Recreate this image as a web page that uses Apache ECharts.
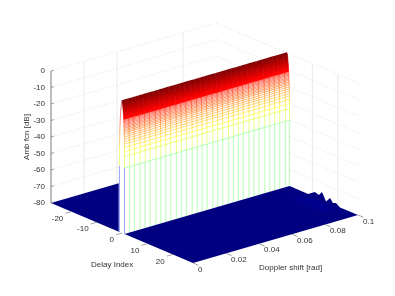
<!DOCTYPE html>
<html><head><meta charset="utf-8">
<style>html,body{margin:0;padding:0;background:#fff}#c{width:395px;height:296px;filter:blur(0.35px)}</style>
<script src="https://cdn.jsdelivr.net/npm/echarts@6/dist/echarts.min.js"></script>
</head><body><div id="c"></div>
<script>
var dbTicks=[0,-10,-20,-30,-40,-50,-60,-70,-80];
var delayTicks=[-20,-10,0,10,20];
var dopplerTicks=[0,0.02,0.04,0.06,0.08,0.1];
var dopplerTickLabels=['0','0.02','0.04','0.06','0.08','0.1'];
var dopplerGrid=[0.02,0.04,0.08];
var delayGrid=[10,20];
var delayRange=[-28,28];
var dopplerRange=[0,0.1];
var dopplerSamples=[0,0.003,0.006,0.0095,0.0125,0.0155,0.019,0.022,0.025,0.028,0.0315,0.0345,0.0375,0.041,0.044,0.047,0.05,0.0535,0.0565,0.0595,0.063,0.066,0.069,0.072,0.0755,0.0785,0.0815,0.085,0.088,0.091,0.094,0.0975,0.1];
var ridgeDb=[0,-0.5,-1,-1.5,-2,-2.5,-3,-3.5,-4,-4.5,-5,-5.5,-6,-6.5,-7,-7.5,-8,-8.5,-9,-9.5,-10,-10.5,-11,-11.6,-12.2,-12.9,-13.6,-14.4,-15.2,-16,-16.9,-17.8,-18.8,-20,-21.2,-22.5,-24,-25.5,-27.5,-30,-33,-40];
var ridgeDelay=[0,0.1,0.15,0.2,0.23,0.26,0.3,0.33,0.36,0.39,0.42,0.45,0.48,0.5,0.52,0.54,0.56,0.58,0.6,0.62,0.64,0.66,0.67,0.69,0.7,0.72,0.74,0.76,0.78,0.8,0.82,0.84,0.86,0.88,0.9,0.92,0.94,0.95,0.97,0.98,0.99,1];
var bumpDelay=[1,8.3,11,12.6,13.8,15.4,17,18.1,19.3,20.9,28];
var bumpDb=[-80,-80,-77.1,-77.9,-75.3,-80,-76.8,-79.2,-78.4,-80,-80];

function project(d,f,z){
  return [122+d*2.536+f*1650, 233+d*1.071-f*480-(z+80)*1.65];
}
function clamp(v){return Math.max(0,Math.min(1,v));}
function jet(z){
  var t=(z+80)/80;
  var r=clamp(1.5-Math.abs(4*t-3)),g=clamp(1.5-Math.abs(4*t-2)),b=clamp(1.5-Math.abs(4*t-1));
  return 'rgb('+Math.round(r*255)+','+Math.round(g*255)+','+Math.round(b*255)+')';
}
var minD=delayRange[0],maxD=delayRange[1],minF=dopplerRange[0],maxF=dopplerRange[1];
var gridSolid='#eaeaea',gridDash='#e6e6e6',tickCol='#8a8a8a',textCol='#333333',floorCol='#000080';

/* line rows: d0,f0,z0,d1,f1,z1,color,width,dash,opacity */
var backGrid=[];
dbTicks.forEach(function(z){
  backGrid.push([minD,minF,z,minD,maxF,z,gridDash,0.8,1,1]);
  backGrid.push([minD,maxF,z,maxD,maxF,z,gridDash,0.8,1,1]);
});
dopplerGrid.forEach(function(f){backGrid.push([minD,f,-80,minD,f,0,gridSolid,1,0,1]);});
delayGrid.forEach(function(d){backGrid.push([d,maxF,-80,d,maxF,0,gridSolid,1,0,1]);});

var axisLines=[[minD,minF,-80,minD,minF,0,'#7a7a7a',1,0,1]];
dbTicks.forEach(function(z){axisLines.push([minD,minF,z,minD,0.0018,z,tickCol,0.8,0,1]);});
delayTicks.forEach(function(d){axisLines.push([d,minF,-80,d,-0.0035,-80,tickCol,0.8,0,1]);});
dopplerTicks.forEach(function(f){axisLines.push([maxD,f,-80,maxD+2.2,f,-80,tickCol,0.8,0,1]);});

/* white faces */
var wallPoly=[];
ridgeDb.forEach(function(z,i){wallPoly.push([ridgeDelay[i],maxF,z]);});
wallPoly.push([1,maxF,-80],[1,minF,-80],[-1.3,minF,-80],[-1.3,minF,-40]);
for(var i=ridgeDb.length-1;i>=0;i--)wallPoly.push([-ridgeDelay[i],minF,ridgeDb[i]]);

var floorPoly=[[minD,minF,-80],[-1,minF,-80],[-1,maxF,-80],[minD,maxF,-80]];
var frontFloor=[[1,minF,-80],[maxD,minF,-80],[maxD,maxF,-80]];
for(var b=bumpDelay.length-1;b>=0;b--)frontFloor.push([bumpDelay[b],maxF,bumpDb[b]]);
var bumpShade=[];
bumpDelay.forEach(function(d,i){if(d>=8&&d<=21)bumpShade.push([d,0.096,-80+(bumpDb[i]+80)*0.5]);});
bumpShade.push([20.9,0.09,-80],[8.3,0.09,-80]);

var wallLines=[];
/* constant-Doppler mesh lines */
dopplerSamples.forEach(function(f,k){
  for(var i=0;i<ridgeDb.length-1;i++){
    wallLines.push([ridgeDelay[i],f,ridgeDb[i],ridgeDelay[i+1],f,ridgeDb[i+1],jet(ridgeDb[i]),1,0,0.55]);
    if(k===0)wallLines.push([-ridgeDelay[i],f,ridgeDb[i],-ridgeDelay[i+1],f,ridgeDb[i+1],jet(ridgeDb[i]),1,0,0.55]);
  }
  if(k>0)wallLines.push([1,f,-40,1,f,-80,jet(-40),1.3,0,0.45]);
});
/* constant-delay mesh lines */
ridgeDb.forEach(function(z,i){
  var w=z>-11?1.5:(z>-20?0.8:0.7);
  var o=z>-11?1:(z>-33?0.7:0.8);
  for(var k=0;k<dopplerSamples.length-1;k++){
    wallLines.push([ridgeDelay[i],dopplerSamples[k],z,ridgeDelay[i],dopplerSamples[k+1],z,jet(z),w,0,o]);
  }
});
var edgeBlue=[[1,minF,-40,1,minF,-80,jet(-68),1,0,0.4],[-1,minF,-40,-1,minF,-80,jet(-68),1,0,0.4]];

function lineSeries(rows,z){
  return {type:'custom',coordinateSystem:'cartesian2d',silent:true,clip:false,z:z,
    encode:{x:0,y:1},data:rows.map(function(r){return r.slice(0,3);}),
    renderItem:function(p,api){
      var r=rows[p.dataIndex];
      var a=api.coord(project(r[0],r[1],r[2])),c=api.coord(project(r[3],r[4],r[5]));
      return {type:'line',shape:{x1:a[0],y1:a[1],x2:c[0],y2:c[1]},
        style:{stroke:r[6],lineWidth:r[7],lineDash:r[8]?[2,2]:null,fill:null,opacity:r[9]}};
    }};
}
function polySeries(pts,color,z){
  return {type:'custom',coordinateSystem:'cartesian2d',silent:true,clip:false,z:z,
    encode:{x:0,y:1},data:[pts[0]],
    renderItem:function(p,api){
      return {type:'polygon',shape:{points:pts.map(function(q){return api.coord(project(q[0],q[1],q[2]));})},
        style:{fill:color,stroke:null}};
    }};
}
/* text rows: d,f,z,label,dx,dy,align */
var labels=[];
dbTicks.forEach(function(z){labels.push([minD,minF,z,String(z),-6,0,'right']);});
delayTicks.forEach(function(d){labels.push([d,minF,-80,String(d),-8,7,'right']);});
dopplerTicks.forEach(function(f,i){labels.push([maxD,f,-80,dopplerTickLabels[i],5,6.5,'left']);});
function textSeries(rows,z){
  return {type:'custom',coordinateSystem:'cartesian2d',silent:true,clip:false,z:z,
    encode:{x:0,y:1},data:rows.map(function(r){return r.slice(0,3);}),
    renderItem:function(p,api){
      var r=rows[p.dataIndex],a=api.coord(project(r[0],r[1],r[2]));
      return {type:'text',x:a[0]+r[4],y:a[1]+r[5],
        style:{text:r[3],fill:textCol,font:'8px "Liberation Sans"',align:r[6],verticalAlign:'middle'}};
    }};
}
var titles=[
 {type:'text',left:91,top:261,style:{text:'Delay Index',fill:textCol,font:'8px "Liberation Sans"'}},
 {type:'text',left:259,top:264,style:{text:'Doppler shift [rad]',fill:textCol,font:'8px "Liberation Sans"'}},
 {type:'text',x:27,y:137,rotation:Math.PI/2,style:{text:'Amb fcn [dB]',fill:textCol,font:'8px "Liberation Sans"',align:'center',verticalAlign:'middle'}}
];
var chart=echarts.init(document.getElementById('c'),null,{renderer:'canvas'});
chart.setOption({
  animation:false,backgroundColor:'#fff',
  grid:{left:0,right:0,top:0,bottom:0},
  xAxis:{type:'value',min:0,max:395,show:false},
  yAxis:{type:'value',min:0,max:296,inverse:true,show:false},
  graphic:titles,
  series:[
    lineSeries(backGrid,1),
    polySeries(floorPoly,floorCol,2),
    polySeries(wallPoly,'#fff',3),
    lineSeries(wallLines,4),
    lineSeries(edgeBlue,5),
    polySeries(frontFloor,floorCol,6),
    polySeries(bumpShade,'#00008e',7),
    lineSeries(axisLines,8),
    textSeries(labels,9)
  ]
});
</script></body></html>
